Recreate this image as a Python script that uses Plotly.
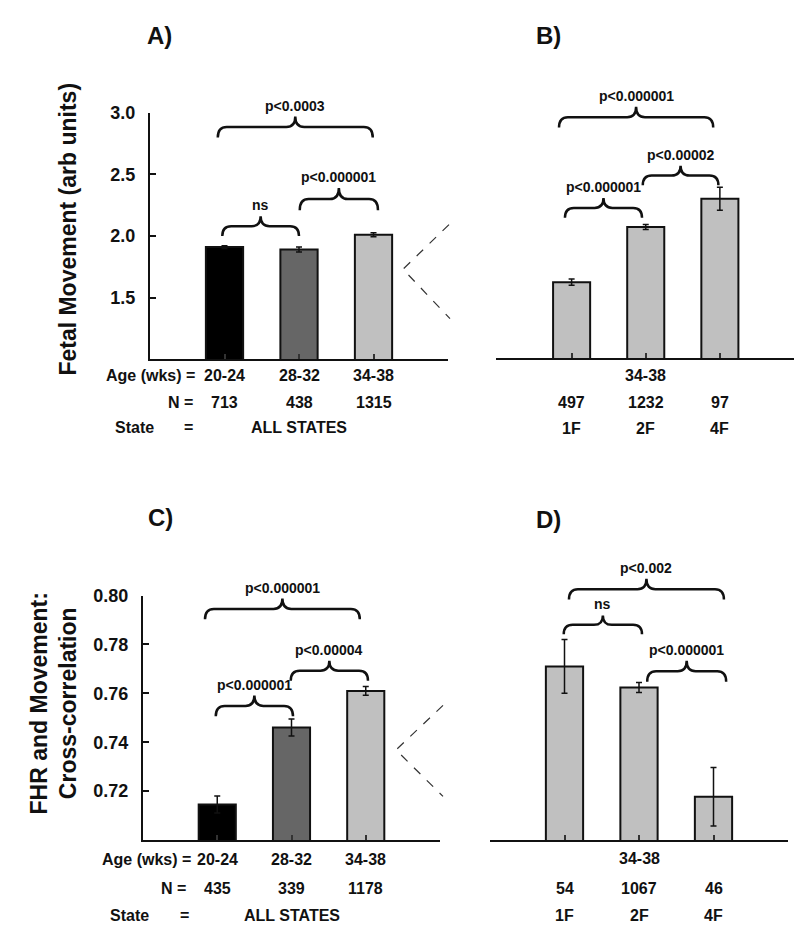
import plotly.graph_objects as go

W, H = 800, 928

# ---------------- data ----------------
age_groups = ["20-24", "28-32", "34-38"]
states = ["1F", "2F", "4F"]

# A) Fetal movement by age (all states)
fm_age = [1.91, 1.89, 2.01]
fm_age_err = [0.012, 0.02, 0.016]
n_fm_age = [713, 438, 1315]

# B) Fetal movement by state (34-38 wks)
fm_state = [1.62, 2.07, 2.30]
fm_state_err = [0.025, 0.02, 0.094]
n_fm_state = [497, 1232, 97]

# C) FHR-movement cross-correlation by age
cc_age = [0.7145, 0.746, 0.761]
cc_age_err = [0.0035, 0.0035, 0.0018]
n_cc_age = [435, 339, 1178]

# D) cross-correlation by state (34-38 wks)
cc_state = [0.771, 0.7624, 0.7177]
cc_state_err = [0.011, 0.002, 0.012]
n_cc_state = [54, 1067, 46]

# significance brackets: (from, to, end level, peak level, label)
cmp_A = [(-0.03, 1.0, 2.00, 2.16, "ns"),
         (1.01, 2.06, 2.21, 2.39, "p<0.000001"),
         (-0.09, 1.99, 2.80, 2.97, "p<0.0003")]
cmp_B = [(-0.09, 0.95, 2.145, 2.306, "p<0.000001"),
         (0.96, 1.98, 2.41, 2.57, "p<0.00002"),
         (-0.17, 1.91, 2.88, 3.05, "p<0.000001")]
cmp_C = [(-0.02, 1.02, 0.7506, 0.7591, "p<0.000001"),
         (0.99, 2.03, 0.7652, 0.7733, "p<0.00004"),
         (-0.165, 1.92, 0.7903, 0.7988, "p<0.000001")]
cmp_D = [(-0.01, 1.04, 0.7842, 0.7919, "ns"),
         (1.11, 2.17, 0.7648, 0.7733, "p<0.000001"),
         (0.06, 2.14, 0.7984, 0.8069, "p<0.002")]

age_colors = ["#000000", "#666666", "#c0c0c0"]
state_color = "#c0c0c0"

FONT = "Arial, 'Liberation Sans', sans-serif"
INK = "#111111"


def px_x(x):
    return x / W


def px_y(y):
    return 1 - y / H


fig = go.Figure()

panels = [
    ("", fm_age, fm_age_err, age_colors, (150, 448), (353, 104), [1.0, 3.0], [-1, 3]),
    ("2", fm_state, fm_state_err, [state_color] * 3, (496, 794), (352, 80), [1.0, 1.0 + 272 / 124], [-1.02, 3]),
    ("3", cc_age, cc_age_err, age_colors, (143, 440), (839, 592), [0.70, 0.80], [-1, 3]),
    ("4", cc_state, cc_state_err, [state_color] * 3, (490, 788), (839, 560), [0.70, 0.70 + 279 / 2470], [-1, 3]),
]

layout_axes = {}
for suf, vals, errs, cols, dx, dy, yr, xr in panels:
    fig.add_trace(go.Bar(
        x=[0, 1, 2], y=vals, width=0.5,
        marker=dict(color=cols, line=dict(color=INK, width=2)),
        error_y=dict(type="data", array=errs, color=INK, thickness=1.5, width=3),
        xaxis="x" + suf, yaxis="y" + suf, showlegend=False, hoverinfo="skip",
    ))
    layout_axes["xaxis" + suf] = dict(
        domain=[px_x(dx[0]), px_x(dx[1])], range=xr, anchor="y" + suf,
        showline=True, linecolor=INK, linewidth=2, ticks="inside",
        tickvals=[0, 1, 2], ticklen=5, tickwidth=1.5, tickcolor="#333333",
        showticklabels=False, showgrid=False, zeroline=False, fixedrange=True,
    )
    yax = dict(domain=[px_y(dy[0]), px_y(dy[1])], range=yr, anchor="x" + suf,
               showgrid=False, zeroline=False, fixedrange=True)
    if suf in ("2", "4"):
        yax["visible"] = False
    else:
        if suf == "":
            tv = [1.5, 2.0, 2.5, 3.0]
            tt = ["1.5", "2.0", "2.5", "3.0"]
        else:
            tv = [0.72, 0.74, 0.76, 0.78, 0.80]
            tt = ["0.72", "0.74", "0.76", "0.78", "0.80"]
        yax.update(showline=True, linecolor=INK, linewidth=2, ticks="inside",
                   ticklen=6, tickwidth=1.5, tickcolor=INK, tickvals=tv, ticktext=tt,
                   tickfont=dict(family=FONT, size=18, color=INK, weight="bold"),
                   ticklabelstandoff=9)
    layout_axes["yaxis" + suf] = yax

fig.update_layout(**layout_axes)

shapes = []
annotations = []


def brace(x0, x1, ye, yp, rx):
    yl = (ye + yp) / 2
    xm = (x0 + x1) / 2
    return (f"M {x0},{ye} Q {x0},{yl} {x0 + rx},{yl} L {xm - rx},{yl} "
            f"Q {xm},{yl} {xm},{yp} Q {xm},{yl} {xm + rx},{yl} "
            f"L {x1 - rx},{yl} Q {x1},{yl} {x1},{ye}")


for suf, cmps in [("", cmp_A), ("2", cmp_B), ("3", cmp_C), ("4", cmp_D)]:
    for x0, x1, ye, yp, lab in cmps:
        shapes.append(dict(type="path", path=brace(x0, x1, ye, yp, 0.12),
                           xref="x" + suf, yref="y" + suf,
                           line=dict(color=INK, width=2.5)))
        annotations.append(dict(x=(x0 + x1) / 2, y=yp, xref="x" + suf, yref="y" + suf,
                                text=lab, showarrow=False, yanchor="bottom", yshift=1,
                                font=dict(family=FONT, size=14, color=INK, weight="bold")))

# dashed zoom connectors
for pts in ([(449, 217), (403, 262), (450, 312)], [(443, 703), (396, 748), (443, 795)]):
    p = "M " + " L ".join(f"{px_x(a)},{px_y(b)}" for a, b in pts)
    shapes.append(dict(type="path", path=p, xref="paper", yref="paper",
                       line=dict(color="#333333", width=1.2, dash="dash")))


def txt(text, x, y, xref="paper", xanchor="center", size=16):
    annotations.append(dict(text=text, x=x, y=px_y(y), xref=xref, yref="paper",
                            xanchor=xanchor, yanchor="middle", showarrow=False,
                            font=dict(family=FONT, size=size, color=INK, weight="bold")))


# panel letters
txt("A)", px_x(159), 26, size=24)
txt("B)", px_x(548), 26, size=24)
txt("C)", px_x(160), 513, size=24)
txt("D)", px_x(548), 515, size=24)

# row labels, panel A / C
for (ageR, st0, eqx, rows) in [((197, 195), 113, 188, (369, 397, 422)),
                               ((193, 188), 108, 184, (859, 888, 915))]:
    txt("Age (wks) =", px_x(ageR[0]), rows[0], xanchor="right")
    txt("N =", px_x(ageR[1]), rows[1], xanchor="right")
    txt("State", px_x(st0), rows[2], xanchor="left")
    txt("=", px_x(eqx), rows[2])

for suf, ns, rows in [("", n_fm_age, (369, 397, 422)), ("3", n_cc_age, (859, 888, 915))]:
    for i, g in enumerate(age_groups):
        txt(g, i, rows[0], xref="x" + suf)
        txt(str(ns[i]), i, rows[1], xref="x" + suf)
    txt("ALL STATES", 1, rows[2], xref="x" + suf)

for suf, ns, rows in [("2", n_fm_state, (369, 397, 423)), ("4", n_cc_state, (858, 888, 915))]:
    txt(age_groups[2], 1, rows[0], xref="x" + suf)
    for i, s in enumerate(states):
        txt(str(ns[i]), i, rows[1], xref="x" + suf)
        txt(s, i, rows[2], xref="x" + suf)

# y-axis titles
annotations.append(dict(text="Fetal Movement (arb units)", x=px_x(68), y=px_y(222),
                        xref="paper", yref="paper", textangle=-90, showarrow=False,
                        xanchor="center", yanchor="middle",
                        font=dict(family=FONT, size=23, color=INK, weight="bold")))
annotations.append(dict(text="FHR and Movement:<br>Cross-correlation", x=px_x(54), y=px_y(701),
                        xref="paper", yref="paper", textangle=-90, showarrow=False,
                        xanchor="center", yanchor="middle",
                        font=dict(family=FONT, size=23, color=INK, weight="bold")))

fig.update_layout(
    width=W, height=H, margin=dict(l=0, r=0, t=0, b=0),
    paper_bgcolor="white", plot_bgcolor="white", showlegend=False,
    shapes=shapes, annotations=annotations, bargap=0.5,
    font=dict(family=FONT, color=INK),
)

fig.write_html(
    "out.html",
    config={"displayModeBar": False},
    post_script=(
        "document.documentElement.style.margin='0';document.body.style.margin='0';"
        "document.body.style.padding='0';document.body.style.overflow='hidden';"
        "var gd=document.getElementById('{plot_id}');"
        "gd.style.position='absolute';gd.style.top='0px';gd.style.left='0px';"
    ),
)
